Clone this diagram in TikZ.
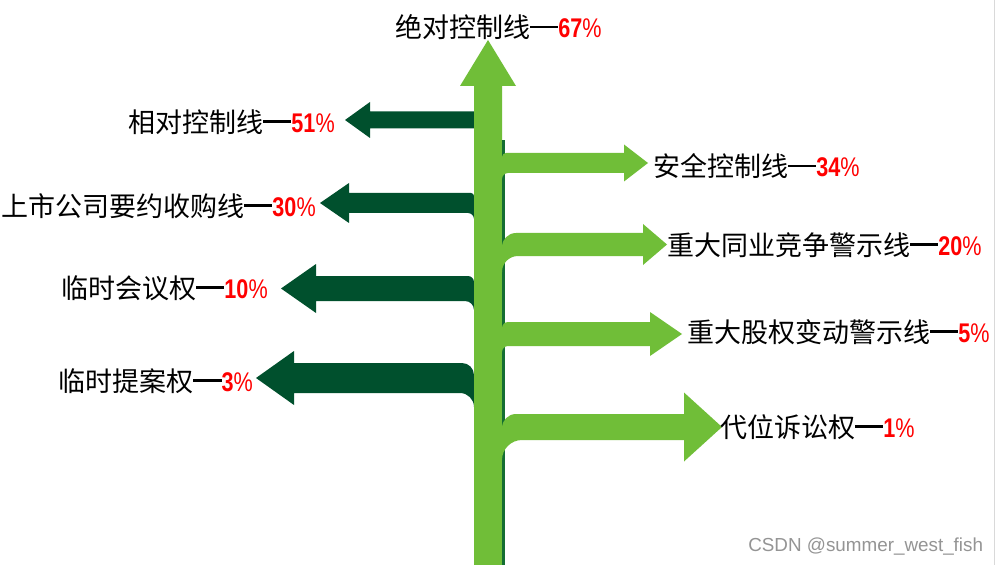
\documentclass[tikz,border=0pt]{standalone}
\usepackage{fontspec}
\newfontfamily\cjk{Noto Sans CJK SC}
\newfontfamily\pctfont[FakeStretch=0.8]{Liberation Sans}
\newfontfamily\markfont{Liberation Sans}
\definecolor{trunkcolor}{RGB}{112, 190, 56}
\definecolor{branchdark}{RGB}{0, 80, 45}
\definecolor{shadecolor}{RGB}{20, 110, 50}
\definecolor{pctred}{RGB}{255, 0, 0}
\newcommand{\pctval}[1]{{\color{pctred}\pctfont\bfseries #1\mdseries\%}}
\newcommand{\linedash}{\rule[0.34em]{1.04em}{0.1em}}

\begin{document}
\begin{tikzpicture}[
    x=0.025cm, y=-0.025cm,
    leftbranch/.style={
        fill=branchdark
    },
    rightbranch/.style={
        fill=trunkcolor
    },
    linetext/.style={
        inner sep=0pt,
        font=\cjk\fontsize{19.2}{22}\selectfont,
        text=black
    },
    watermark/.style={
        inner sep=0pt,
        font=\markfont\fontsize{13.4}{15}\selectfont,
        text=black!42
    }
]

% Canvas
\fill[white] (0, 0) rectangle (996, 565);
\useasboundingbox (0, 0) rectangle (996, 565);
\draw[black!15, line width=0.6pt] (994, 0) -- (994, 565);

% ==================== LEFT BRANCHES ====================
\foreach \c/\h/\H/\xb/\xt/\rt/\rb in {120/8.5/18/370/345/0/0, 203/10/20/349/320/3/6,
    288.5/12.5/24.5/316/281/6/9, 378/15/27/294/256/12/14}{
  \fill[leftbranch] (480, {\c-\h+\rt}) -- (474, {\c-\h+\rt})
    .. controls (474, {\c-\h+0.45*\rt}) and ({474-0.45*\rt}, {\c-\h}) .. ({474-\rt}, {\c-\h})
    -- (\xb, {\c-\h}) -- (\xb, {\c-\H}) -- (\xt, \c) -- (\xb, {\c+\H}) -- (\xb, {\c+\h})
    -- ({474-\rb}, {\c+\h})
    .. controls ({474-0.45*\rb}, {\c+\h}) and (474, {\c+\h+0.45*\rb}) .. (474, {\c+\h+\rb})
    -- (480, {\c+\h+\rb}) -- cycle;
}

% ==================== TRUNK ====================
\coordinate (tip) at (488, 40);
\fill[trunkcolor] (474, 565) -- (474, 86) -- (460, 86) -- (tip) -- (516, 86)
    -- (502, 86) -- (502, 565) -- cycle;
\fill[shadecolor] (502, 140) rectangle (505, 565);

% ==================== RIGHT BRANCHES ====================
\foreach \c/\h/\H/\xb/\xt/\rt/\rb in {163/10/18.5/624/648/4/6, 244.5/11.5/20.5/643/667/14/16,
    334/12/22/650/682/6/6, 427/13/34.5/684/722/14/20}{
  \fill[rightbranch] (496, {\c-\h+\rt}) -- (502, {\c-\h+\rt})
    .. controls (502, {\c-\h+0.45*\rt}) and ({502+0.45*\rt}, {\c-\h}) .. ({502+\rt}, {\c-\h})
    -- (\xb, {\c-\h}) -- (\xb, {\c-\H}) -- (\xt, \c) -- (\xb, {\c+\H}) -- (\xb, {\c+\h})
    -- ({502+\rb}, {\c+\h})
    .. controls ({502+0.45*\rb}, {\c+\h}) and (502, {\c+\h+0.45*\rb}) .. (502, {\c+\h+\rb})
    -- (496, {\c+\h+\rb}) -- cycle;
}

% ==================== LABELS ====================
\node[linetext, anchor=west] (absolute) at (395, 27) {绝对控制线\linedash\pctval{67}};

\node[linetext, anchor=east] (relative) at (335, 122) {相对控制线\linedash\pctval{51}};
\node[linetext, anchor=east] (takeover) at (316, 206) {上市公司要约收购线\linedash\pctval{30}};
\node[linetext, anchor=east] (meeting) at (268, 288) {临时会议权\linedash\pctval{10}};
\node[linetext, anchor=east] (proposal) at (253, 381) {临时提案权\linedash\pctval{3}};

\node[linetext, anchor=west] (safety) at (653, 166) {安全控制线\linedash\pctval{34}};
\node[linetext, anchor=west] (rivalry) at (667, 245) {重大同业竞争警示线\linedash\pctval{20}};
\node[linetext, anchor=west] (equity) at (687, 332) {重大股权变动警示线\linedash\pctval{5}};
\node[linetext, anchor=west] (lawsuit) at (720, 427) {代位诉讼权\linedash\pctval{1}};

% Watermark
\node[watermark, anchor=west] (csdn) at (748, 547) {CSDN @summer\_west\_fish};

\end{tikzpicture}
\end{document}
